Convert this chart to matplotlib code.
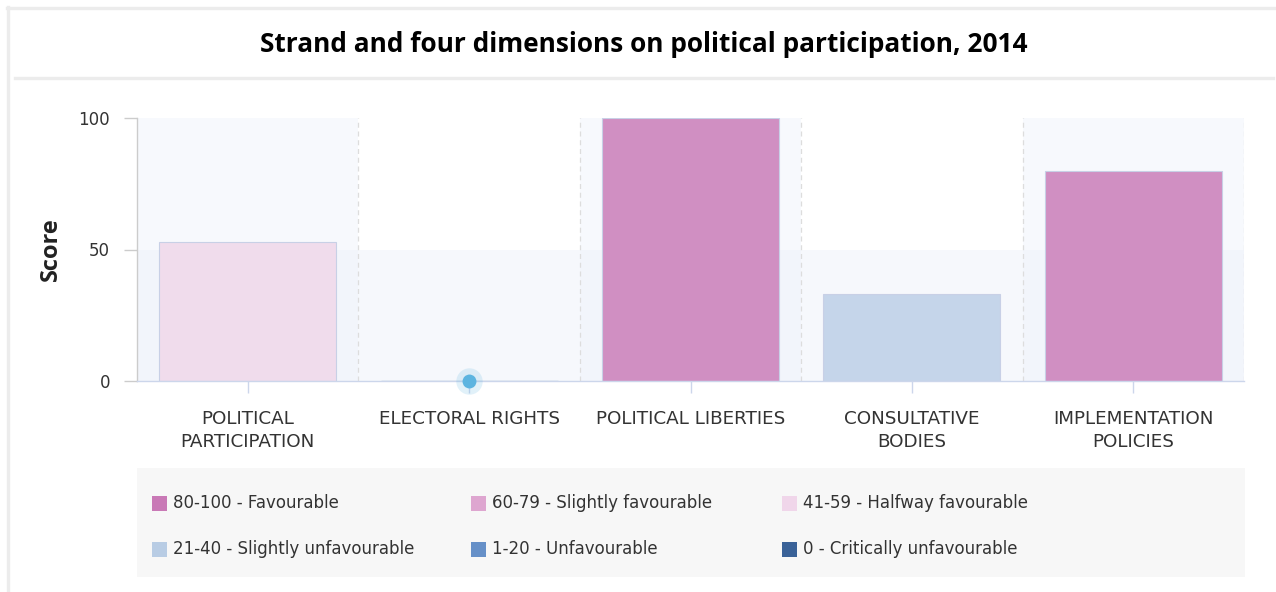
import matplotlib
matplotlib.use("Agg")
import matplotlib.pyplot as plt
from matplotlib.patches import Rectangle
from matplotlib.lines import Line2D

categories = ["POLITICAL\nPARTICIPATION", "ELECTORAL RIGHTS", "POLITICAL LIBERTIES",
              "CONSULTATIVE\nBODIES", "IMPLEMENTATION\nPOLICIES"]
scores = [53, 0, 100, 33, 80]
bar_colors = ["#f0dcec", "#5cb4e0", "#d08fc2", "#c5d5ea", "#d08fc2"]
legend_labels = ["80-100 - Favourable", "60-79 - Slightly favourable", "41-59 - Halfway favourable",
                 "21-40 - Slightly unfavourable", "1-20 - Unfavourable", "0 - Critically unfavourable"]
legend_colors = ["#c979b6", "#dea6d0", "#f0d6ea", "#b8cce4", "#6690c8", "#3a6298"]
yticks = [0, 50, 100]
title = "Strand and four dimensions on political participation, 2014"

plt.rcParams["font.family"] = ["DejaVu Sans"]

W, H = 1276, 592
fig = plt.figure(figsize=(W / 100, H / 100), dpi=100)
fig.patch.set_facecolor("white")

# background axes in pixel coordinates
bg = fig.add_axes([0, 0, 1, 1])
bg.set_xlim(0, W)
bg.set_ylim(H, 0)
bg.axis("off")
bg.add_line(Line2D([7, W], [8, 8], color="#ececec", lw=2.4))
bg.add_line(Line2D([8, 8], [7, H], color="#ececec", lw=2.4))
bg.add_line(Line2D([15, 1273], [77.5, 77.5], color="#ececec", lw=2.4))
bg.text(644, 45, title, ha="center", va="center", fontsize=18.9, fontweight="bold",
        family="Open Sans", color="#000000")
# legend box
bg.add_patch(Rectangle((137, 468), 1108, 109, facecolor="#f7f7f7", edgecolor="none"))
leg_x = [152, 471, 782]
leg_y = [503, 549]
for i, (lab, col) in enumerate(zip(legend_labels, legend_colors)):
    r, c = divmod(i, 3)
    x, y = leg_x[c], leg_y[r]
    bg.add_patch(Rectangle((x, y - 7.5), 15, 15, facecolor=col, edgecolor="none"))
    bg.text(x + 21, y, lab, ha="left", va="center", fontsize=12, color="#333333",
            family="DejaVu Sans")

# main axes
left, right, top, bottom = 137, 1244, 118, 381
ax = fig.add_axes([left / W, 1 - bottom / H, (right - left) / W, (bottom - top) / H])
ax.set_xlim(-0.5, 4.5)
ax.set_ylim(0, 100)
ax.patch.set_alpha(0)
n = len(categories)
# plot bands
ax.axhspan(0, 50, color="#eef2fb", alpha=0.5, lw=0, zorder=0)
for i in range(0, n, 2):
    ax.axvspan(i - 0.5, i + 0.5, color="#eef2fb", alpha=0.45, lw=0, zorder=0)
for i in range(n):
    ax.vlines(i + 0.5, 0, 100, colors="#dddddd", linestyles=(0, (4, 3)), lw=0.9, zorder=1)

xs = list(range(n))
for x, v, c in zip(xs, scores, bar_colors):
    if v > 0:
        ax.bar(x, v, width=0.8, color=c, edgecolor="#c8d0e6", linewidth=0.8, zorder=2)
    else:
        ax.bar(x, v, width=0.8, color=c, edgecolor="#a9bfd3", linewidth=1.0, zorder=2)
        ax.plot([x], [v], "o", ms=19, color="#5cb4e0", alpha=0.18, zorder=3, clip_on=False, mec="none")
        ax.plot([x], [v], "o", ms=10, color="#5cb4e0", zorder=4, clip_on=False, mec="none")

ax.set_xticks(xs)
ax.set_xticklabels(categories, fontsize=13.2, color="#333333", linespacing=1.3,
                   family="DejaVu Sans")
ax.set_yticks(yticks)
ax.set_yticklabels([str(t) for t in yticks], fontsize=12, color="#333333", family="DejaVu Sans")
ax.tick_params(axis="x", length=8.6, color="#ccd6eb", width=1, pad=12.5)
ax.tick_params(axis="y", length=9.4, color="#cccccc", width=1, pad=10)
for s in ["top", "right"]:
    ax.spines[s].set_visible(False)
ax.spines["left"].set_color("#cccccc")
ax.spines["bottom"].set_color("#ccd6eb")
ax.spines["left"].set_linewidth(1)
ax.spines["bottom"].set_linewidth(1)
ax.set_ylabel("Score", fontsize=17, fontweight="bold", family="Open Sans", color="#222222")
ax.yaxis.set_label_coords(-0.0665, 0.5)

fig.savefig("out.png", dpi=100)
